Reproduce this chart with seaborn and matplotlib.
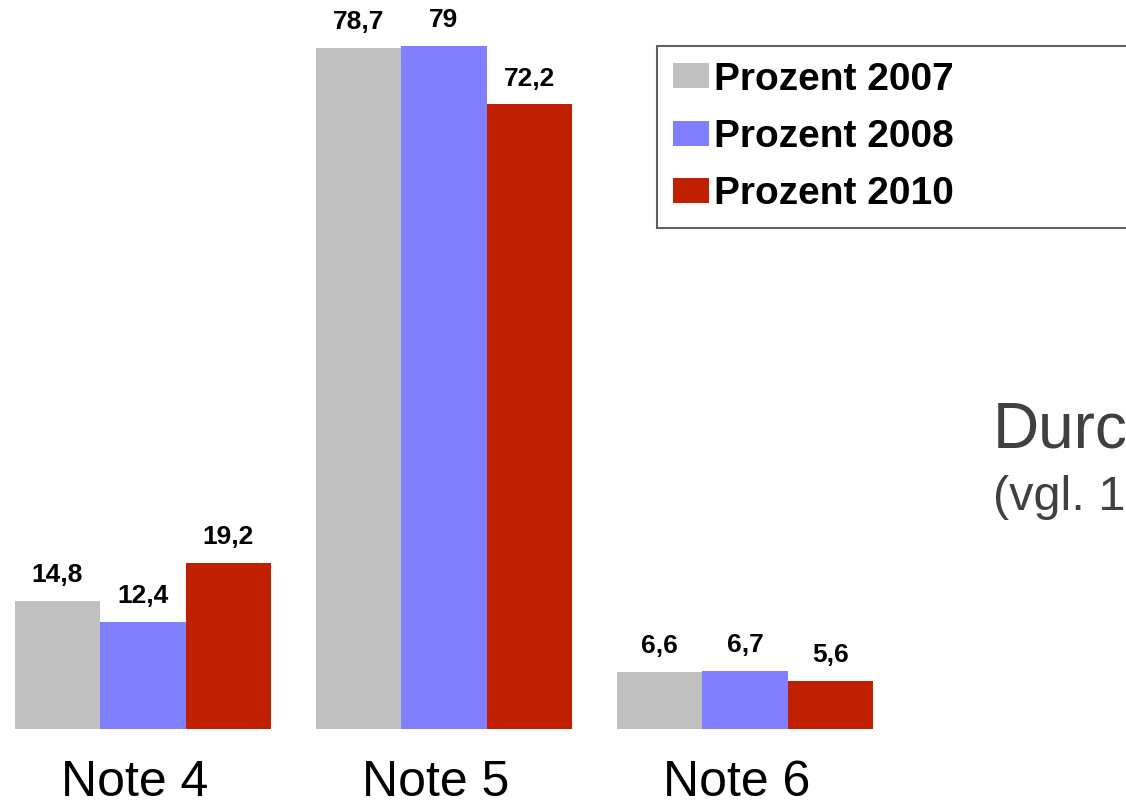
import pandas as pd
import seaborn as sns
import matplotlib.pyplot as plt
from matplotlib.transforms import ScaledTranslation

notes = ['Note 4', 'Note 5', 'Note 6']
years = ['Prozent 2007', 'Prozent 2008', 'Prozent 2010']
values_2007 = [14.8, 78.7, 6.6]
values_2008 = [12.4, 79.0, 6.7]
values_2010 = [19.2, 72.2, 5.6]
colors = ['#c0c0c0', '#8080ff', '#c02000']

df = pd.DataFrame({
    'note': notes * 3,
    'year': [years[0]] * 3 + [years[1]] * 3 + [years[2]] * 3,
    'value': values_2007 + values_2008 + values_2010,
})

sns.set_style('white')
plt.rcParams['font.family'] = ['Liberation Sans', 'DejaVu Sans']
plt.rcParams['text.color'] = 'black'
plt.rcParams['xtick.color'] = 'black'

fig = plt.figure(figsize=(11.26, 8.02), dpi=100)
ax = fig.add_axes([0, 73 / 802, 1, 1 - 73 / 802])

sns.barplot(data=df, x='note', y='value', hue='year', palette=colors,
            width=0.852, gap=0, linewidth=0, saturation=1, ax=ax, legend=False)

ax.set_xlim(-143 / 301, (1126 - 143) / 301)
ax.set_ylim(0, 729 / 8.65)
sns.despine(ax=ax, left=True, bottom=True)
ax.set_yticks([])
ax.set_xlabel('')
ax.set_ylabel('')
ax.tick_params(axis='x', length=0, pad=22, labelsize=36)
# category labels sit a little left of the group centres in the original
shift = ScaledTranslation(-8 / 100, 0, fig.dpi_scale_trans)
for lbl in ax.get_xticklabels():
    lbl.set_transform(lbl.get_transform() + shift)

for container in ax.containers:
    labels = [f'{b.get_height():g}'.replace('.', ',') for b in container]
    ax.bar_label(container, labels=labels, padding=10, fontsize=19,
                 fontweight='bold', color='black')

handles = [plt.Rectangle((0, 0), 1, 1, color=c, linewidth=0) for c in colors]
leg = fig.legend(handles, years, loc='upper left', mode='expand',
                 bbox_to_anchor=(657 / 1126, 0, 1.0, 1 - 46 / 802),
                 bbox_transform=fig.transFigure,
                 prop={'size': 28, 'weight': 'bold'},
                 handlelength=0.93, handleheight=0.62, handletextpad=0.14,
                 labelspacing=0.55, borderpad=0.4, borderaxespad=0,
                 fancybox=False, framealpha=1)
leg.get_frame().set_edgecolor('#606060')
leg.get_frame().set_linewidth(1.5)
for t in leg.get_texts():
    t.set_color('black')

fig.text(993 / 1126, 1 - 447 / 802, 'Durchschnitt', fontsize=46, color='#404040')
fig.text(993 / 1126, 1 - 510 / 802, '(vgl. 1', fontsize=35, color='#404040')

fig.savefig('out.png', dpi=100)
